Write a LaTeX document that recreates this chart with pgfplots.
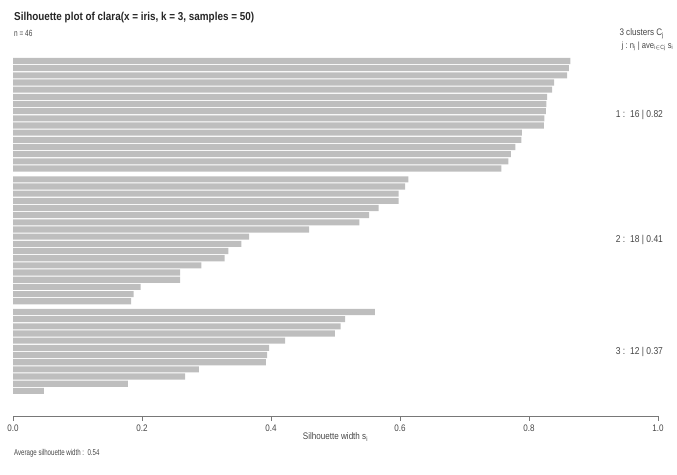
\documentclass[border=0pt]{standalone}
\usepackage{fontspec}
\setmainfont{Liberation Sans}[FakeStretch=0.72]
\newfontfamily\titlefont{Liberation Sans}[FakeStretch=0.86]
\newfontfamily\widefont{Liberation Sans}[FakeStretch=0.85]
\usepackage{pgfplots}
\pgfplotsset{compat=1.18}
\definecolor{bargray}{RGB}{190,190,190}
\definecolor{axgray}{RGB}{120,120,120}
\definecolor{txtgray}{RGB}{70,70,70}

\pgfplotstableread{
y s
47 0.864
46 0.862
45 0.859
44 0.839
43 0.836
42 0.828
41 0.827
40 0.826
39 0.824
38 0.823
37 0.789
36 0.788
35 0.779
34 0.772
33 0.768
32 0.757
}\clusterone
\pgfplotstableread{
y s
30.5 0.613
29.5 0.608
28.5 0.598
27.5 0.598
26.5 0.567
25.5 0.552
24.5 0.537
23.5 0.459
22.5 0.366
21.5 0.354
20.5 0.334
19.5 0.328
18.5 0.292
17.5 0.259
16.5 0.259
15.5 0.198
14.5 0.187
13.5 0.183
}\clustertwo
\pgfplotstableread{
y s
12 0.561
11 0.515
10 0.508
9 0.499
8 0.422
7 0.397
6 0.394
5 0.392
4 0.288
3 0.267
2 0.178
1 0.048
}\clusterthree

\begin{document}
\begin{tikzpicture}
\begin{axis}[
  scale only axis, width=645pt, height=416pt,
  xmin=0, xmax=1, ymin=-2.5, ymax=55.5,
  axis x line=bottom, axis y line=none,
  axis line style={axgray, -},
  xtick={0,0.2,0.4,0.6,0.8,1},
  xticklabel style={/pgf/number format/.cd, fixed, fixed zerofill, precision=1},
  /pgf/number format/assume math mode=true,
  tick align=outside, major tick length=5pt,
  tick style={axgray},
  ticklabel style={font=\widefont\fontsize{9.5}{10}\selectfont, text=txtgray},
  xlabel={Silhouette width s\textsubscript{i}},
  xlabel style={at={(axis description cs:0.5,-0.05)}, anchor=center, font=\widefont\fontsize{9.5}{10}\selectfont, text=txtgray},
  xbar, bar width=0.85, bar shift=0pt,
  clip=false,
]
\addplot[fill=bargray, draw=none] table[x=s, y=y] {\clusterone};
\addplot[fill=bargray, draw=none] table[x=s, y=y] {\clustertwo};
\addplot[fill=bargray, draw=none] table[x=s, y=y] {\clusterthree};

\node[anchor=west, inner sep=0pt, font=\titlefont\bfseries\fontsize{11.5}{12}\selectfont, text=black!85] at (axis cs:0.0015,53.0) {Silhouette plot of clara(x = iris, k = 3, samples = 50)};
\node[anchor=west, inner sep=0pt, font=\fontsize{9}{10}\selectfont, text=txtgray] at (axis cs:0.0015,50.9) {n = 46};
\node[anchor=west, inner sep=0pt, font=\widefont\fontsize{9.5}{10}\selectfont, text=txtgray] at (axis cs:0.94,50.8) {3 clusters C\textsubscript{j}};
\node[anchor=east, inner sep=0pt, font=\widefont\fontsize{9}{10}\selectfont, text=txtgray] at (axis cs:1.024,49.0) {j :\ n\textsubscript{j} | ave\textsubscript{i$\in$Cj} s\textsubscript{i}};
\node[anchor=east, inner sep=0pt, font=\widefont\fontsize{10}{10}\selectfont, text=txtgray] at (axis cs:1.008,39.5) {1 :\ \ 16 | 0.82};
\node[anchor=east, inner sep=0pt, font=\widefont\fontsize{10}{10}\selectfont, text=txtgray] at (axis cs:1.008,22) {2 :\ \ 18 | 0.41};
\node[anchor=east, inner sep=0pt, font=\widefont\fontsize{10}{10}\selectfont, text=txtgray] at (axis cs:1.008,6.5) {3 :\ \ 12 | 0.37};
\node[anchor=west, inner sep=0pt, font=\fontsize{8.5}{10}\selectfont, text=txtgray] at (axis cs:0.0015,-7.66) {Average silhouette width :\ \ 0.54};

\coordinate (bl) at (rel axis cs:0,0);
\coordinate (tr) at (rel axis cs:1,1);
\end{axis}
\pgfresetboundingbox
\path ([shift={(-13pt,-59pt)}]bl) rectangle ([shift={(19pt,0pt)}]tr);
\end{tikzpicture}
\end{document}
